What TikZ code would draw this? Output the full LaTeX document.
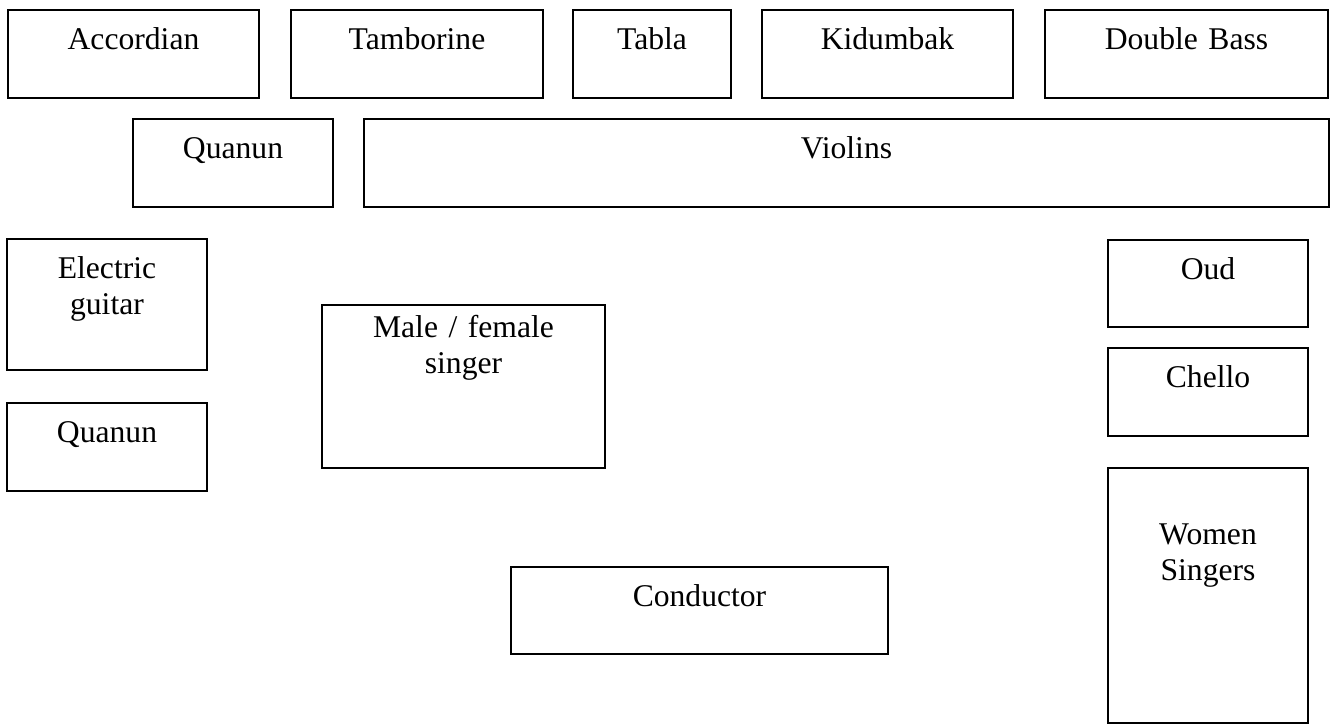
\documentclass[tikz,border=0pt]{standalone}
\usepackage{fontspec}
\setmainfont{Liberation Serif}
\usepackage{tikz}
\tikzset{
  box/.style={rectangle, draw=black, fill=white, line width=0.9pt, inner sep=0pt,
              anchor=north, align=center, text height=0.8cm,
              font=\fontsize{18}{20.5}\selectfont},
}

\begin{document}
\begin{tikzpicture}[x=0.02cm,y=-0.02cm]
\useasboundingbox (0,0) rectangle (1331,724);
\node[box, text width=5.02cm, text depth=0.96cm] (acc) at (133.5,9)  {Accordian};
\node[box, text width=5.04cm, text depth=0.96cm] (tam) at (417,9)    {Tamborine};
\node[box, text width=3.16cm, text depth=0.96cm] (tab) at (652,9)    {Tabla};
\node[box, text width=5.02cm, text depth=0.96cm] (kid) at (887.5,9)  {Kidumbak};
\node[box, text width=5.66cm, text depth=0.96cm] (dbl) at (1186.5,9) {Double Bass};
\node[box, text width=4.00cm, text depth=0.96cm] (qup) at (233,118)   {Quanun};
\node[box, text width=19.30cm, text depth=0.96cm] (vio) at (846.5,118) {Violins};
\node[box, text width=4.00cm, text depth=1.82cm] (egt) at (107,238)  {Electric\\guitar};
\node[box, text width=4.00cm, text depth=0.96cm] (qlo) at (107,402)  {Quanun};
\node[box, text width=5.66cm, text height=0.66cm, text depth=2.60cm] (sng) at (463.5,304) {Male / female\\singer};
\node[box, text width=4.00cm, text depth=0.94cm] (oud) at (1208,239) {Oud};
\node[box, text width=4.00cm, text depth=0.96cm] (chl) at (1208,347) {Chello};
\node[box, text width=4.00cm, text height=1.54cm, text depth=3.56cm] (wom) at (1208,467) {Women\\Singers};
\node[box, text width=7.54cm, text depth=0.94cm] (con) at (699.5,566) {Conductor};
\end{tikzpicture}
\end{document}
